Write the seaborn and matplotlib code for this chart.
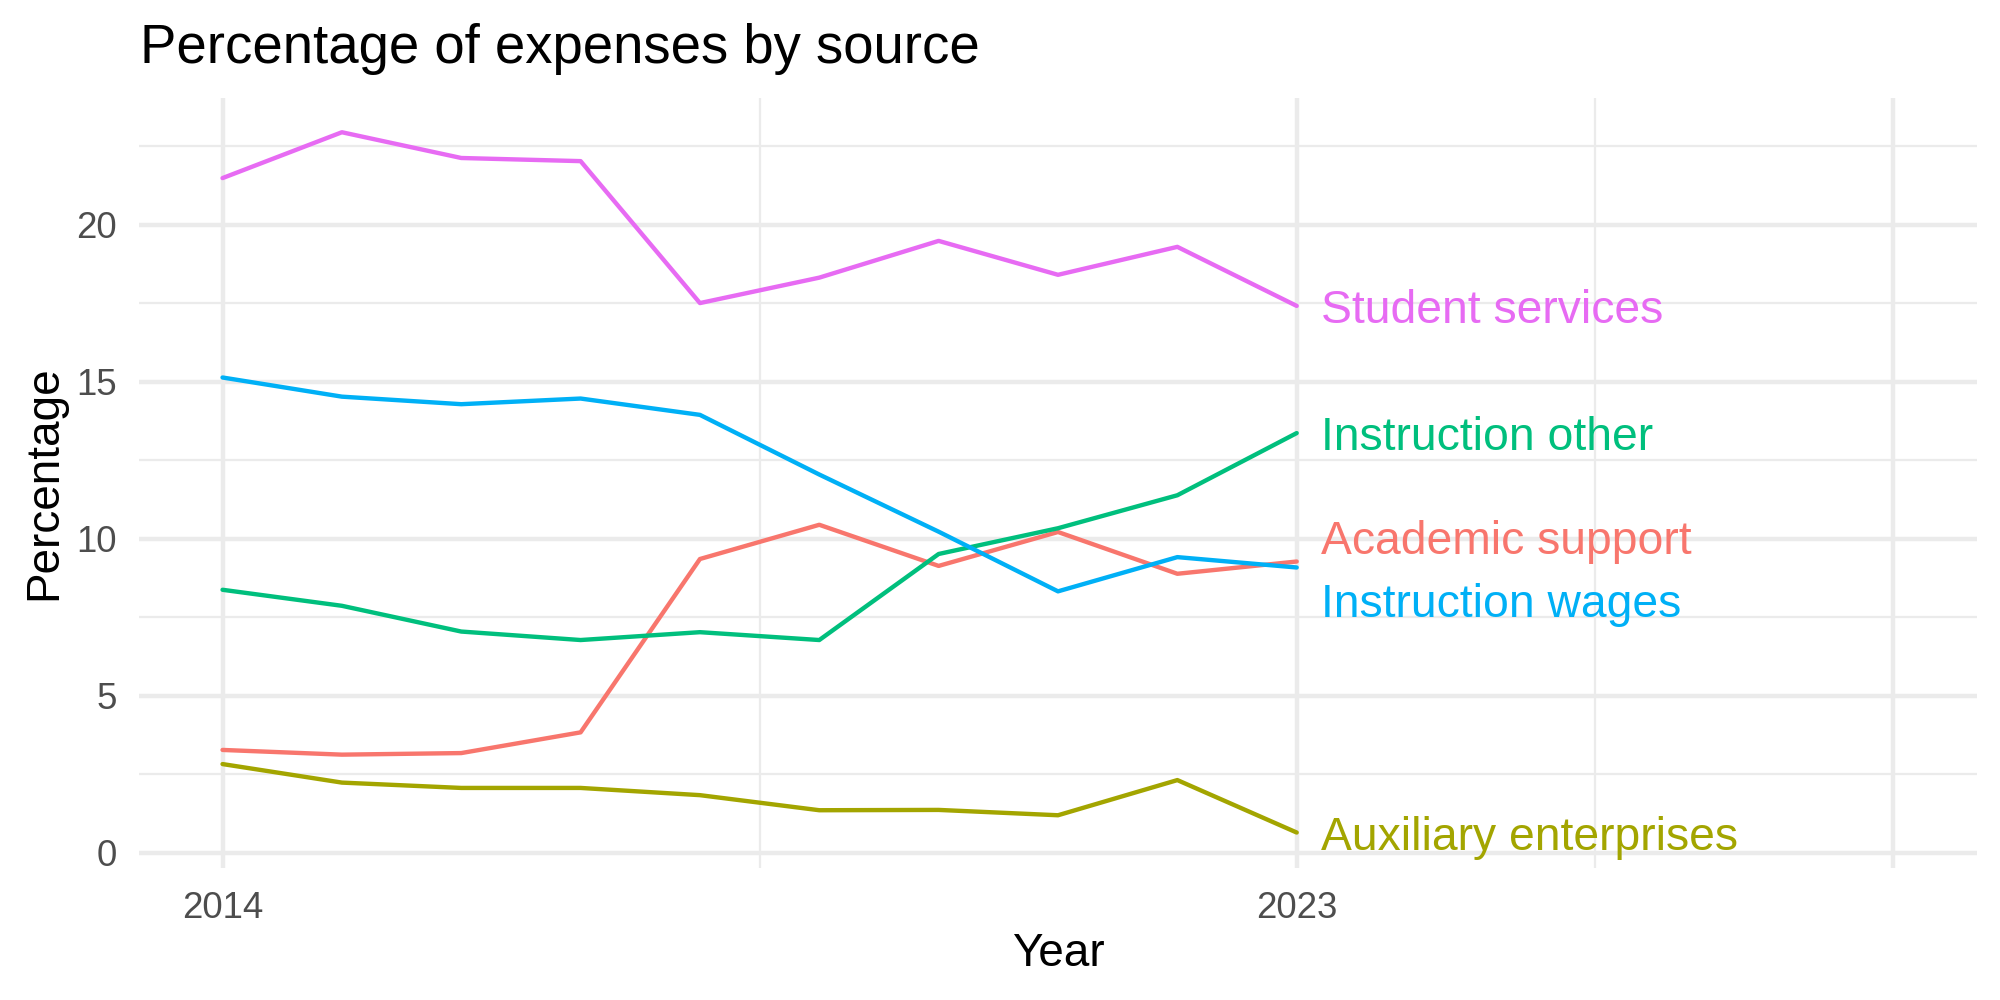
import numpy as np
import pandas as pd
import matplotlib
matplotlib.use("Agg")
import matplotlib.pyplot as plt
import seaborn as sns

# ---- data ----
years = [2014, 2015, 2016, 2017, 2018, 2019, 2020, 2021, 2022, 2023]
academic_support = [3.28, 3.13, 3.18, 3.84, 9.36, 10.45, 9.14, 10.22, 8.89, 9.28]
auxiliary_enterprises = [2.83, 2.24, 2.07, 2.07, 1.84, 1.36, 1.37, 1.20, 2.32, 0.65]
instruction_other = [8.38, 7.87, 7.05, 6.78, 7.03, 6.78, 9.52, 10.34, 11.39, 13.37]
instruction_wages = [15.14, 14.53, 14.29, 14.47, 13.95, 12.05, 10.23, 8.33, 9.42, 9.09]
student_services = [21.49, 22.95, 22.13, 22.03, 17.51, 18.32, 19.49, 18.41, 19.30, 17.42]
categories = ["Academic support", "Auxiliary enterprises", "Instruction other",
              "Instruction wages", "Student services"]
x_tick_labels = ["2014", "2023", ""]

series = {
    "Academic support": academic_support,
    "Auxiliary enterprises": auxiliary_enterprises,
    "Instruction other": instruction_other,
    "Instruction wages": instruction_wages,
    "Student services": student_services,
}
df = pd.DataFrame(
    [(y, c, v) for c in categories for y, v in zip(years, series[c])],
    columns=["Year", "Source", "Percentage"],
)

palette = dict(zip(categories, ["#F8766D", "#A3A500", "#00BF7D", "#00B0F6", "#E76BF3"]))
# label offsets (repel) relative to last value
label_offsets = {"Academic support": 0.78, "Instruction wages": -1.03}

sns.set_theme(style="white")
plt.rcParams["font.family"] = ["Liberation Sans", "DejaVu Sans"]

DPI = 300
fig = plt.figure(figsize=(2000 / DPI, 1000 / DPI), dpi=DPI)
ax = fig.add_axes([0.0695, 0.1323, 0.919, 0.770])

sns.lineplot(data=df, x="Year", y="Percentage", hue="Source", palette=palette,
             hue_order=categories, linewidth=1.05, legend=False, ax=ax, zorder=3)

# axes limits (ggplot expansion)
ax.set_xlim(2013.3, 2028.7)
ax.set_ylim(-0.47, 24.05)

# grid
ax.set_xticks([2014, 2023, 2028])
ax.set_xticklabels(x_tick_labels)
ax.set_xticks([2018.5, 2025.5], minor=True)
ax.set_yticks([0, 5, 10, 15, 20])
ax.set_yticklabels(["0", "5", "10", "15", "20"])
ax.set_yticks([2.5, 7.5, 12.5, 17.5, 22.5], minor=True)
ax.grid(which="major", color="#EBEBEB", linewidth=1.07, zorder=0)
ax.grid(which="minor", color="#EBEBEB", linewidth=0.53, zorder=0)
ax.set_axisbelow(True)
for s in ax.spines.values():
    s.set_visible(False)
ax.tick_params(which="both", length=0)
ax.tick_params(axis="y", pad=5.3, labelsize=8.8, labelcolor="#4D4D4D")
ax.tick_params(axis="x", pad=5.6, labelsize=8.8, labelcolor="#4D4D4D")
ax.set_xlabel("")
ax.set_ylabel("")

# end labels
for c in categories:
    last_y = series[c][-1] + label_offsets.get(c, 0.0)
    ax.text(years[-1] + 0.2, last_y, c, color=palette[c], fontsize=11.1,
            ha="left", va="center_baseline", zorder=4)

# titles
fig.text(0.0700, 0.9373, "Percentage of expenses by source", fontsize=13.1,
         ha="left", va="baseline", color="black")
fig.text(0.529, 0.034, "Year", fontsize=11, ha="center", va="baseline", color="black")
fig.text(0.028, 0.5173, "Percentage", fontsize=11, rotation=90, ha="center",
         va="baseline", rotation_mode="anchor", color="black")

fig.savefig("out.png", dpi=DPI, facecolor="white")
